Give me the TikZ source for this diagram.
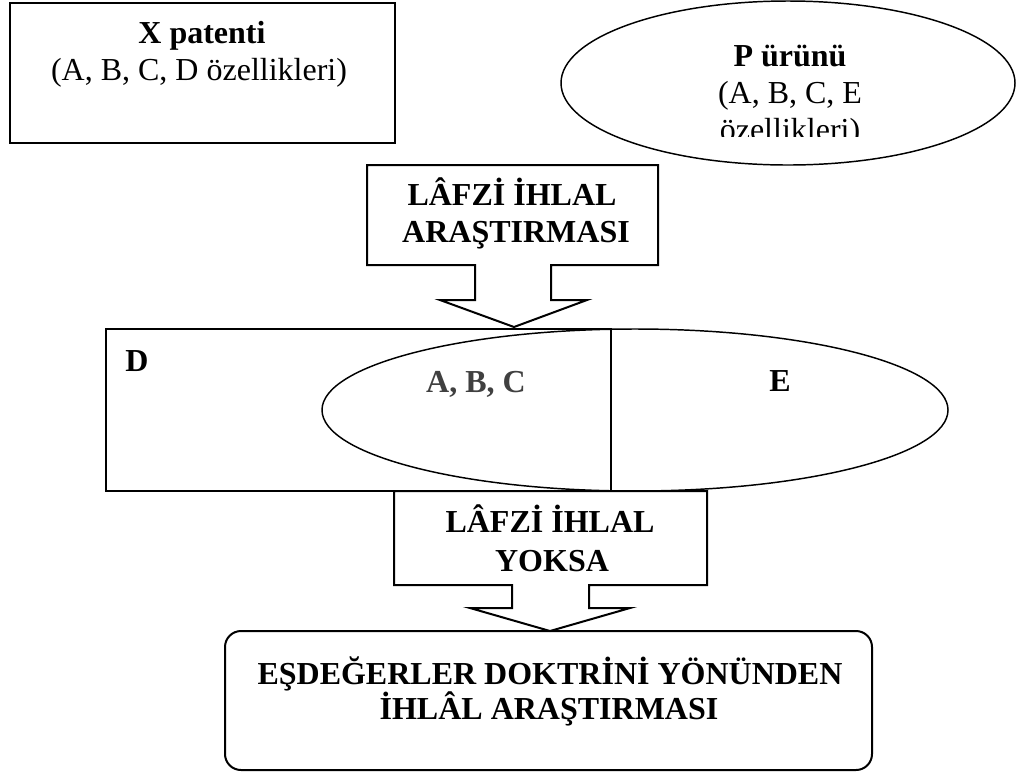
\documentclass[tikz,border=0pt]{standalone}
\usepackage{fontspec}
\setmainfont{Liberation Serif}
\begin{document}
\begin{tikzpicture}[x=0.75pt,y=-0.75pt,
  thickline/.style={draw=black, line width=1.5pt, line join=miter},
  thinline/.style={draw=black, line width=1.1pt},
  lbl/.style={font=\fontsize{24}{28}\selectfont, anchor=base, inner sep=0pt},
  blbl/.style={lbl, font=\fontsize{24}{28}\selectfont\bfseries},
]
\useasboundingbox[fill=white] (0,0) rectangle (1016,776);

% X patenti box
\draw[thickline] (10,3) rectangle (395,143);
\node[blbl] (xtitle) at (202,43) {X patenti};
\node[lbl] (xsub) at (199,80) {(A, B, C, D özellikleri)};

% P urunu ellipse
\draw[thinline] (788,83) ellipse [x radius=227, y radius=82];
\node[blbl] (ptitle) at (790,66) {P ürünü};
\node[lbl] (psub) at (790,103) {(A, B, C, E};
\begin{scope}
  \clip (560,0) rectangle (1016,136);
  \node[lbl] (psub2) at (790,140) {özellikleri)};
\end{scope}

% upper callout
\draw[thickline] (367,165) -- (658,165) -- (658,265) -- (551,265) -- (551,300)
  -- (587,300) -- (514,327) -- (440,300) -- (475,300) -- (475,265) -- (367,265) -- cycle;
\node[blbl] (c1a) at (512,205) {LÂFZİ İHLAL};
\node[blbl] (c1b) at (516,242) {ARAŞTIRMASI};

% comparison rectangle and ellipse
\draw[thickline] (106,329) rectangle (611,491);
\draw[thinline] (635,410) ellipse [x radius=313, y radius=81];
\node[blbl] (dlbl) at (137,371) {D};
\node[blbl, text=black!75] (abc) at (476,392) {A, B, C};
\node[blbl] (elbl) at (780,391) {E};

% lower callout
\draw[thickline] (394,491) -- (707,491) -- (707,585) -- (589,585) -- (589,608)
  -- (630,608) -- (550,631) -- (470,608) -- (512,608) -- (512,585) -- (394,585) -- cycle;
\node[blbl] (c2a) at (550,532) {LÂFZİ İHLAL};
\node[blbl] (c2b) at (552,571) {YOKSA};

% bottom rounded box
\draw[thickline, rounded corners=12pt] (225,631) rectangle (872,770);
\node[blbl] (b1) at (550,684) {EŞDEĞERLER DOKTRİNİ YÖNÜNDEN};
\node[blbl] (b2) at (549,719) {İHLÂL ARAŞTIRMASI};
\end{tikzpicture}
\end{document}
